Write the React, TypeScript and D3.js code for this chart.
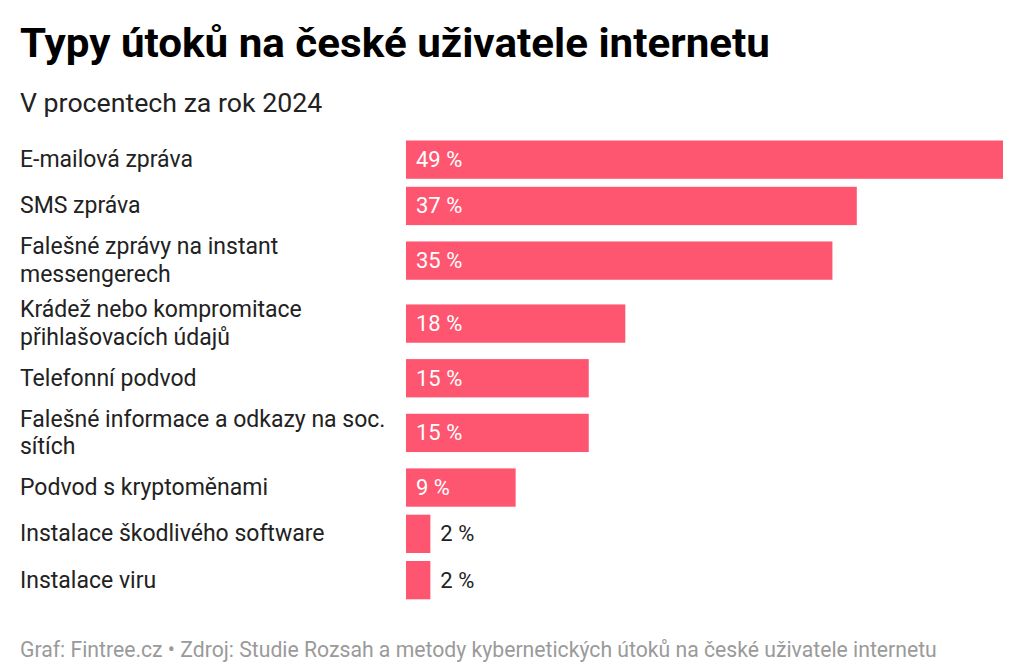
import React from "react";
import * as d3 from "d3";

const title = "Typy útoků na české uživatele internetu";
const subtitle = "V procentech za rok 2024";
const footer = "Graf: Fintree.cz • Zdroj: Studie Rozsah a metody kybernetických útoků na české uživatele internetu";

const categories: string[][] = [
  ["E-mailová zpráva"],
  ["SMS zpráva"],
  ["Falešné zprávy na instant", "messengerech"],
  ["Krádež nebo kompromitace", "přihlašovacích údajů"],
  ["Telefonní podvod"],
  ["Falešné informace a odkazy na soc.", "sítích"],
  ["Podvod s kryptoměnami"],
  ["Instalace škodlivého software"],
  ["Instalace viru"],
];
const values = [49, 37, 35, 18, 15, 15, 9, 2, 2];

const W = 1024;
const H = 666;
const BAR_H = 38.3;
const LINE_H = 27.5;
const GAP = 8;
const TOP = 140.5;
const BAR_COLOR = "#fe5670";
const FONT = "Roboto, 'Noto Sans', sans-serif";

export default function App() {
  const x = d3.scaleLinear().domain([0, 49]).range([406, 1003]);

  const rowHeights = categories.map((c) => Math.max(BAR_H, c.length * LINE_H));
  const rowTops: number[] = [];
  let acc = TOP - (rowHeights[0] - BAR_H) / 2;
  rowHeights.forEach((h) => {
    rowTops.push(acc);
    acc += h + GAP;
  });

  return (
    <div style={{ position: "absolute", left: 0, top: 0, width: W, height: H, background: "#fff" }}>
      <svg width={W} height={H} style={{ display: "block" }} fontFamily={FONT}>
        <rect width={W} height={H} fill="#fff" />
        <text x={20} y={57} fontSize={40} fontWeight={700} fill="#000" textLength={750} lengthAdjust="spacingAndGlyphs">
          {title}
        </text>
        <text x={20} y={112} fontSize={26.7} fill="#222">
          {subtitle}
        </text>
        {categories.map((lines, i) => {
          const top = rowTops[i];
          const h = rowHeights[i];
          const cy = top + h / 2;
          const v = values[i];
          const barW = x(v) - x(0);
          const inside = barW > 60;
          const textTop = cy - (lines.length * LINE_H) / 2;
          return (
            <g key={i}>
              {lines.map((ln, j) => (
                <text key={j} x={20} y={textTop + LINE_H * j + LINE_H / 2 + 7.5} fontSize={23} fill="#222">
                  {ln}
                </text>
              ))}
              <rect x={x(0)} y={cy - BAR_H / 2} width={barW} height={BAR_H} fill={BAR_COLOR} />
              <text
                x={inside ? x(0) + 10 : x(v) + 10}
                y={cy + 7.5}
                fontSize={22}
                fill={inside ? "#fff" : "#222"}
              >
                {v + " %"}
              </text>
            </g>
          );
        })}
        <text x={20} y={657} fontSize={21.2} fill="#9a9a9a">
          {footer}
        </text>
      </svg>
    </div>
  );
}
